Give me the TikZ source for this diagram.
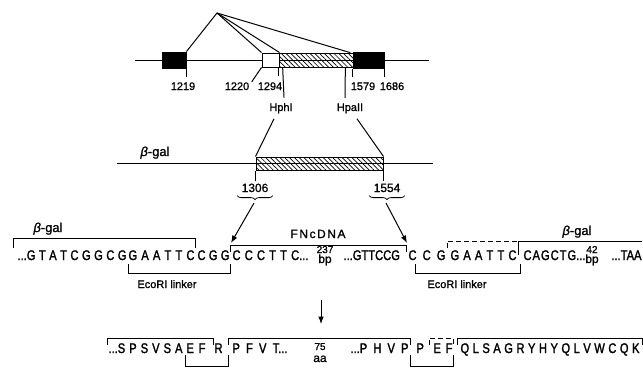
\documentclass[tikz,border=0pt]{standalone}
\usepackage{fontspec}
\newfontfamily\seqfont[FakeStretch=0.8,FakeBold=1.6]{Liberation Sans}
\newfontfamily\labfont[FakeBold=1.2]{Liberation Sans}
\usetikzlibrary{arrows.meta,patterns.meta,decorations.pathreplacing}
\newcommand\spreadto[2]{\makebox[#1][s]{\spaceskip=0pt plus 1fil\relax#2}}
\tikzset{
  seq/.style={font=\seqfont\fontsize{14}{14}\selectfont,inner sep=0pt,anchor=base west},
  lab/.style={font=\labfont\fontsize{11}{12}\selectfont,inner sep=0pt,anchor=base},
  gal/.style={font=\labfont\fontsize{13}{13}\selectfont,inner sep=0pt,anchor=base},
  supnum/.style={font=\labfont\fontsize{10}{10}\selectfont,inner sep=0pt,anchor=base},
  exon/.style={draw,fill=black,inner sep=0pt,minimum height=16bp},
  hatchbox/.style={draw,inner sep=0pt,minimum height=14bp,
    pattern={Lines[angle=-45,distance=3.4pt,line width=.7pt]}},
  ubrace/.style={decorate,decoration={brace,amplitude=4bp}},
}

\begin{document}
\begin{tikzpicture}[x=1bp,y=-1bp,>=Latex,line width=1pt]
  \useasboundingbox (0,0) rectangle (643,371);

  % gene map
  \draw (135,60) -- (429,60);
  \node[exon,minimum width=24bp] (e1) at (174,60) {};
  \node[draw,fill=white,inner sep=0pt,minimum width=17bp,minimum height=14bp] (e2) at (270.5,60) {};
  \node[hatchbox,minimum width=74bp] (fn) at (316,60) {};
  \node[exon,minimum width=31bp] (e3) at (368.5,60) {};
  \coordinate (apex) at (217,13);
  \draw (e1.north east) -- (apex) -- (e2.north west);
  \draw (apex) -- (e2.north east);
  \draw (apex) -- ([xshift=-3bp]fn.north east);

  \draw (e1.south east) -- ++(0,8);
  \node[lab] (n1219) at (183,90) {1219};
  \node[lab] (n1220) at (237,90) {1220};
  \draw ([xshift=2bp]n1220.north east) -- (e2.south west);
  \draw (fn.south west) -- ++(0,9);
  \node[lab] (n1294) at (270,90) {1294};
  \draw (e3.south west) -- ++(0,8);
  \node[lab] (n1579) at (363,90) {1579};
  \draw (e3.south east) -- ++(0,8);
  \node[lab] (n1686) at (392,90) {1686};
  \node[lab] (hph) at (281,111) {HphI};
  \node[lab] (hpa) at (350,111) {HpaII};
  \draw ([xshift=4bp]fn.south west) -- ([xshift=3bp,yshift=5bp]hph.north);
  \draw ([xshift=-8bp]fn.south east) -- ([xshift=-5bp,yshift=5bp]hpa.north);

  % fusion plasmid
  \draw (117,163) -- (433,163);
  \node[gal] (bg1) at (155,156) {{\itshape β}-gal};
  \node[hatchbox,minimum width=127bp,minimum height=13bp] (fn2) at (319.5,163.5) {};
  \draw ([xshift=-7bp,yshift=-5bp]hph.south) -- (fn2.north west);
  \draw ([xshift=7bp,yshift=-5bp]hpa.south) -- (fn2.north east);
  \draw (fn2.south west) -- ++(0,10);
  \draw (fn2.south east) -- ++(0,10);
  \node[lab,font=\labfont\fontsize{12}{12}\selectfont] (n1306) at (255,192) {1306};
  \node[lab,font=\labfont\fontsize{12}{12}\selectfont] (n1554) at (387,192) {1554};
  \draw[ubrace,line width=.8pt] ([xshift=4bp,yshift=-3bp]n1306.south east) -- ([xshift=-4bp,yshift=-3bp]n1306.south west);
  \draw[ubrace,line width=.8pt] ([xshift=4bp,yshift=-3bp]n1554.south east) -- ([xshift=-4bp,yshift=-3bp]n1554.south west);
  \coordinate (b1) at (254,203);
  \coordinate (b2) at (386,203);
  \coordinate (j1) at (231,243);
  \coordinate (j2) at (407,243);
  \draw[->] (b1) -- (j1);
  \draw[->] (b2) -- (j2);

  % DNA sequence
  \node[seq] (s1) at (17,260) {\spreadto{109bp}{...G T A T C G G C G}};
  \node[seq] (s2) at (128,260) {\spreadto{66bp}{G A A T T C}};
  \node[seq] (s3) at (197,260) {\spreadto{32bp}{C G G}};
  \node[seq] (s4) at (232,260) {\spreadto{76bp}{C C C T T C...}};
  \node[supnum] (n237) at (325,253) {237};
  \node[lab,font=\labfont\fontsize{12}{12}\selectfont] (bp1) at (325,263) {bp};
  \node[seq] (s5) at (343,260) {...GTTCCG};
  \node[seq] (s6) at (408,260) {\spreadto{37bp}{C C G}};
  \node[seq] (s7) at (450,260) {\spreadto{66bp}{G A A T T C}};
  \node[seq] (s8) at (523,260) {\spreadto{62bp}{C A G C T G...}};
  \node[supnum] (n42) at (592,253) {42};
  \node[lab,font=\labfont\fontsize{12}{12}\selectfont] (bp2) at (592,263) {bp};
  \node[seq,anchor=base east] (s9) at (642,260) {...TAA};

  \node[gal] (bg2) at (48,232) {{\itshape β}-gal};
  \draw (13,248) |- (195,238) -- (195,248);
  \node[lab,font=\labfont\fontsize{12}{12}\selectfont] (fnl) at (318,238) {\spreadto{55bp}{F N c D N A}};
  \draw (230,252) |- (406,245) -- (406,252);
  \draw[dashed,dash pattern=on 5bp off 3bp] (447,248) |- (518,241);
  \draw (518,255) |- (642,241);
  \node[gal] (bg3) at (577,235) {{\itshape β}-gal};
  \draw (128,264) |- (230,273) -- (230,264);
  \node[lab] (eco1) at (167,288) {EcoRI linker};
  \draw (415,264) |- (520,273) -- (520,264);
  \node[lab] (eco2) at (457,288) {EcoRI linker};

  \coordinate (d1) at (321,300);
  \coordinate (d2) at (321,324);
  \draw[->] (d1) -- (d2);

  % protein sequence
  \node[seq] (p1) at (108,353) {\spreadto{74bp}{...S P S V S A}};
  \node[seq] (p2) at (186,353) {\spreadto{19bp}{E F}};
  \node[seq] (p3) at (214,353) {R};
  \node[seq] (p4) at (232,353) {\spreadto{55bp}{P F V T...}};
  \node[supnum] (n75) at (320,350) {75};
  \node[lab,font=\labfont\fontsize{12}{12}\selectfont] (aa) at (320,362) {aa};
  \node[seq] (p5) at (350,353) {\spreadto{58bp}{...P H V P}};
  \node[seq] (p6) at (416,353) {P};
  \node[seq] (p7) at (433,353) {\spreadto{19bp}{E F}};
  \node[seq] (p8) at (460,353) {\spreadto{179bp}{Q L S A G R Y H Y Q L V W C Q K}};

  \draw (107,345) |- (213,338) -- (213,345);
  \draw (228,345) |- (410,338) -- (410,345);
  \draw[dashed,dash pattern=on 5bp off 3bp] (429,345) |- (453,338) -- (453,345);
  \draw (457,345) |- (642,338) -- (642,345);
  \draw (185,355) |- (228,366) -- (228,355);
  \draw (410,355) |- (453,366) -- (453,355);
\end{tikzpicture}
\end{document}
